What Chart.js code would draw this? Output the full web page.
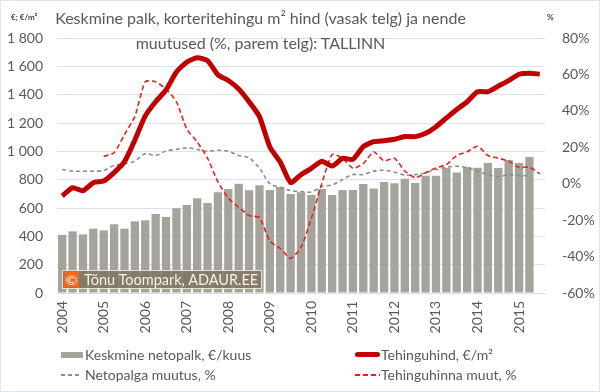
<!DOCTYPE html>
<html>
<head>
<meta charset="utf-8">
<script src="https://cdn.jsdelivr.net/npm/chart.js@4.4.0/dist/chart.umd.min.js"></script>
<style>
  body { margin: 0; background: #fff; }
  #wrap { position: relative; width: 600px; height: 392px; font-family: Lato, sans-serif; color: #595959; overflow: hidden; }
  #wrap canvas { position: absolute; left: 0; top: 0; }
  #frame { position: absolute; left: 0; top: 0; width: 600px; height: 392px; box-sizing: border-box; border: 1px solid #dfe5ec; pointer-events: none; }
  .title { position: absolute; left: 0; width: 521px; top: 5px; text-align: center; font-size: 16px; line-height: 25px; }
  .unit { position: absolute; top: 12px; font-size: 8px; font-weight: bold; color: #404040; }
  .leg { position: absolute; font-size: 14px; line-height: 16px; white-space: nowrap; }
  .sw { position: absolute; }
  #mark { position: absolute; left: 62px; top: 270px; width: 198px; height: 17px; background: rgba(128,118,100,0.9); border: 1px solid #e6e1d2; }
  #mark .c { position: absolute; left: 1px; top: 1px; width: 15px; height: 15px; background: #f26a21; color: #fff; font-size: 14px; line-height: 15px; text-align: center; }
  #mark .t { position: absolute; left: 21px; top: 0; font-size: 14.5px; line-height: 17px; color: #f5f1e4; white-space: nowrap; }
</style>
</head>
<body>
<div id="wrap">
  <canvas id="myChart" width="600" height="392"></canvas>
  <div class="title">Keskmine palk, korteritehingu m² hind (vasak telg) ja nende<br>muutused (%, parem telg): TALLINN</div>
  <div class="unit" style="left:11px">€; €/m²</div>
  <div class="unit" style="left:547px">%</div>
  <div id="mark"><div class="c">©</div><div class="t">Tõnu Toompark, ADAUR.EE</div></div>

  <div class="sw" style="left:61px;top:352px;width:22px;height:6px;background:#a4a39c"></div>
  <div class="leg" style="left:85px;top:347px">Keskmine netopalk, €/kuus</div>
  <div class="sw" style="left:355px;top:352px;width:25px;height:5px;background:#c00000;border-radius:3px"></div>
  <div class="leg" style="left:381px;top:347px">Tehinguhind, €/m²</div>
  <div class="sw" style="left:61px;top:374px;width:21px;height:2px;background:repeating-linear-gradient(90deg,#8e8e8e 0 4px,transparent 4px 7px)"></div>
  <div class="leg" style="left:85px;top:367px">Netopalga muutus, %</div>
  <div class="sw" style="left:355px;top:374px;width:25px;height:2px;background:repeating-linear-gradient(90deg,#e3231c 0 5px,transparent 5px 8px)"></div>
  <div class="leg" style="left:381px;top:367px">Tehinguhinna muut, %</div>
  <div id="frame"></div>
</div>
<script>
var quarters = [
  "2004 Q1", "2004 Q2", "2004 Q3", "2004 Q4",
  "2005 Q1", "2005 Q2", "2005 Q3", "2005 Q4",
  "2006 Q1", "2006 Q2", "2006 Q3", "2006 Q4",
  "2007 Q1", "2007 Q2", "2007 Q3", "2007 Q4",
  "2008 Q1", "2008 Q2", "2008 Q3", "2008 Q4",
  "2009 Q1", "2009 Q2", "2009 Q3", "2009 Q4",
  "2010 Q1", "2010 Q2", "2010 Q3", "2010 Q4",
  "2011 Q1", "2011 Q2", "2011 Q3", "2011 Q4",
  "2012 Q1", "2012 Q2", "2012 Q3", "2012 Q4",
  "2013 Q1", "2013 Q2", "2013 Q3", "2013 Q4",
  "2014 Q1", "2014 Q2", "2014 Q3", "2014 Q4",
  "2015 Q1", "2015 Q2", "2015 Q3",
];

// keskmine netopalk, €/kuus (vasak telg)
var netSalary = [
  410, 435, 414, 454, 442, 485, 454, 506, 513, 558, 537, 598,
  621, 668, 635, 711, 734, 772, 725, 760, 727, 748, 699, 711,
  692, 734, 692, 727, 727, 770, 737, 784, 774, 807, 777, 828,
  828, 882, 850, 890, 885, 918, 882, 939, 918, 960, null,
];

// tehinguhind, €/m² (vasak telg)
var pricePerM2 = [
  685, 743, 722, 779, 791, 850, 927, 1080, 1250, 1350, 1433, 1560,
  1630, 1660, 1640, 1540, 1500, 1440, 1350, 1245, 1030, 925, 780, 835,
  880, 930, 896, 950, 944, 1033, 1068, 1075, 1085, 1104, 1104, 1127,
  1174, 1235, 1295, 1350, 1421, 1421, 1460, 1499, 1544, 1551, 1545,
];

// netopalga muutus, % (parem telg)
var salaryChange = [
  7.8, 6.9, 6.9, 6.9, 7.3, 10, 10.8, 12.5, 16.5, 15.5, 18, 18.8,
  19.7, 18.8, 17.8, 18.4, 17.8, 15.5, 14.2, 8.5, 0, -2, -3.8, -4.3,
  -4.5, -1.5, -0.7, 2.3, 5, 5, 6.9, 7.4, 6.3, 4.7, 5, 6,
  7.8, 9, 9.6, 8.7, 6.9, 5, 3.8, 5, 4.5, 4.3, null,
];

// tehinguhinna muutus, % (parem telg)
var priceChange = [
  null, null, null, null, 15, 17, 27, 37, 56, 56, 52, 45,
  30, 23, 14, 1, -8, -13, -17.5, -18.6, -31.5, -35.5, -41, -35,
  -19, 0, 16, 14, 8.5, 11, 17.5, 12.5, 14, 7, 3.3, 6,
  8.7, 10.5, 15.5, 17.5, 20.6, 15.5, 14, 12.4, 9, 9, 5.5,
];

var tickFont = { family: "Lato", size: 14 };

function spaced(v) {
  if (v >= 1000) {
    return Math.floor(v / 1000) + " " + String(v % 1000).padStart(3, "0");
  }
  return String(v);
}

var ctx = document.getElementById("myChart").getContext("2d");

var myChart = new Chart(ctx, {
  data: {
    labels: quarters,
    datasets: [
      {
        type: "line",
        label: "Tehinguhind, €/m²",
        data: pricePerM2,
        yAxisID: "y",
        borderColor: "#c00000",
        borderWidth: 5,
        pointRadius: 0,
        tension: 0.2,
        order: 1,
      },
      {
        type: "line",
        label: "Tehinguhinna muut, %",
        data: priceChange,
        yAxisID: "y1",
        borderColor: "#e3231c",
        borderWidth: 1.6,
        borderDash: [5, 3],
        pointRadius: 0,
        tension: 0.2,
        order: 2,
      },
      {
        type: "line",
        label: "Netopalga muutus, %",
        data: salaryChange,
        yAxisID: "y1",
        borderColor: "#8e8e8e",
        borderWidth: 1.6,
        borderDash: [4, 3],
        pointRadius: 0,
        tension: 0.3,
        order: 3,
      },
      {
        type: "bar",
        label: "Keskmine netopalk, €/kuus",
        data: netSalary,
        yAxisID: "y",
        backgroundColor: "#a4a39c",
        barPercentage: 0.8,
        categoryPercentage: 1.0,
        order: 4,
      },
    ],
  },
  options: {
    responsive: false,
    animation: false,
    layout: {
      padding: { top: 38, left: 0, right: 0, bottom: 0 },
    },
    plugins: {
      legend: { display: false },
      tooltip: { enabled: false },
    },
    scales: {
      x: {
        grid: { display: false, drawTicks: false },
        border: { color: "#d9dfe8" },
        ticks: {
          autoSkip: false,
          maxRotation: 90,
          minRotation: 90,
          padding: 8,
          color: "#595959",
          font: tickFont,
          callback: function (v, i) {
            return quarters[i].endsWith("Q1") ? quarters[i].slice(0, 4) : "";
          },
        },
        afterFit: function (s) {
          s.height = 99;
        },
      },
      y: {
        position: "left",
        min: 0,
        max: 1800,
        ticks: {
          stepSize: 200,
          padding: 14,
          color: "#595959",
          font: tickFont,
          callback: spaced,
        },
        grid: { color: "#dce3ec", drawTicks: false },
        border: { display: false },
        afterFit: function (s) {
          s.width = 57;
        },
      },
      y1: {
        position: "right",
        min: -60,
        max: 80,
        ticks: {
          stepSize: 20,
          padding: 17,
          color: "#595959",
          font: tickFont,
          callback: function (v) {
            return v + "%";
          },
        },
        grid: { display: false, drawTicks: false },
        border: { display: false },
        afterFit: function (s) {
          s.width = 55;
        },
      },
    },
  },
});
</script>
</body>
</html>
